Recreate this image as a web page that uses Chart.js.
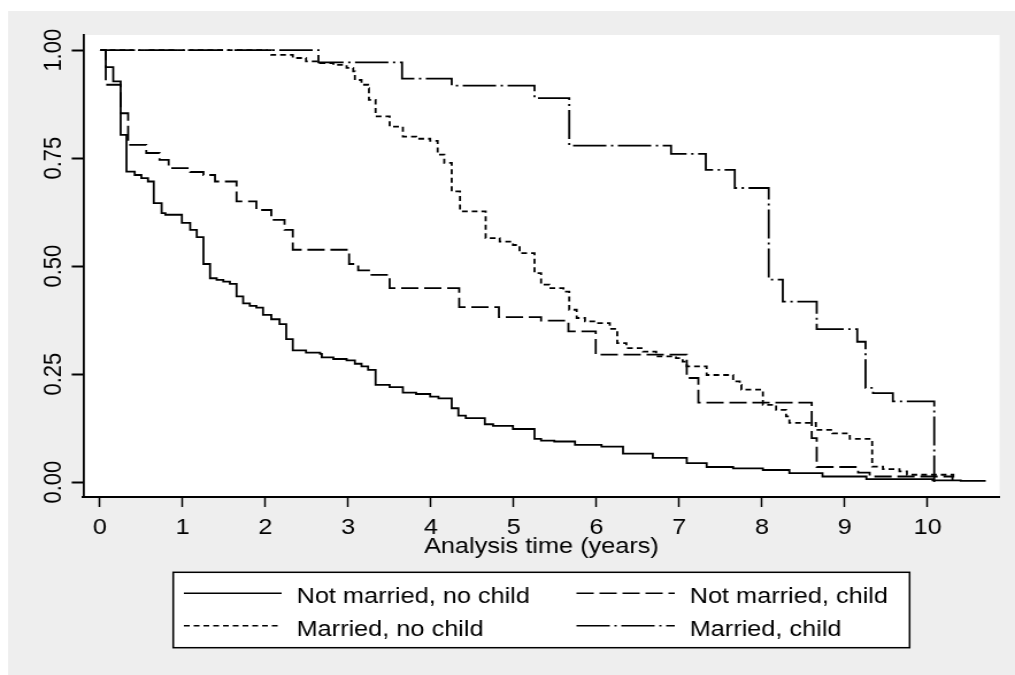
<!DOCTYPE html>
<html>
<head>
<meta charset="utf-8">
<title>Kaplan-Meier survival by marital status</title>
<script src="https://cdn.jsdelivr.net/npm/chart.js@4.4.1/dist/chart.umd.min.js"></script>
<style>
  html, body { margin: 0; padding: 0; background: #fff; overflow: hidden; }
  /* the original graph was exported slightly stretched sideways */
  #wrap { width: 883px; height: 675px; transform: scaleX(1.1495); transform-origin: 0 0; }
</style>
</head>
<body>
<div id="wrap"><canvas id="kmChart"></canvas></div>
<script>
const groupLabels = ["Not married, no child", "Not married, child", "Married, no child", "Married, child"];
const xTicks = [0, 1, 2, 3, 4, 5, 6, 7, 8, 9, 10];
const yTicks = [0, 0.25, 0.5, 0.75, 1];
const xTitle = "Analysis time (years)";

// Not married, no child
const timeNmNc = [0, 0.07, 0.16, 0.25, 0.32, 0.42, 0.50, 0.58, 0.65, 0.745, 0.79, 0.99, 1.09, 1.17, 1.25, 1.33, 1.41, 1.49, 1.57, 1.65,
  1.73, 1.81, 1.89, 1.97, 2.07, 2.17, 2.25, 2.33, 2.49, 2.66, 2.68, 2.82, 2.98, 3.08, 3.16, 3.24, 3.33, 3.50, 3.66, 3.82,
  3.99, 4.09, 4.25, 4.33, 4.42, 4.65, 4.75, 4.99, 5.25, 5.33, 5.49, 5.74, 6.06, 6.32, 6.68, 7.09, 7.33, 7.65, 8.01, 8.33,
  8.73, 9.26, 10.06, 10.40, 10.69];
const survNmNc = [1, 0.961, 0.928, 0.804, 0.719, 0.711, 0.704, 0.696, 0.646, 0.623, 0.619, 0.600, 0.584, 0.567, 0.505, 0.472, 0.468, 0.464, 0.459, 0.430,
  0.414, 0.408, 0.404, 0.387, 0.377, 0.366, 0.331, 0.305, 0.300, 0.297, 0.289, 0.285, 0.282, 0.274, 0.268, 0.260, 0.225, 0.220, 0.207, 0.204,
  0.198, 0.194, 0.171, 0.154, 0.148, 0.134, 0.130, 0.123, 0.100, 0.096, 0.094, 0.086, 0.082, 0.066, 0.056, 0.044, 0.035, 0.032, 0.028, 0.021,
  0.013, 0.007, 0.004, 0.003, 0.001];

// Not married, child
const timeNmC = [0, 0.07, 0.25, 0.34, 0.56, 0.72, 0.83, 1.09, 1.25, 1.39, 1.65, 1.89, 2.07, 2.23, 2.33, 3.01, 3.12, 3.25, 3.50, 4.34,
  4.82, 5.33, 5.66, 5.99, 7.09, 7.23, 8.60, 8.66, 9.16, 9.30, 10.30];
const survNmC = [1, 0.920, 0.854, 0.781, 0.762, 0.746, 0.727, 0.718, 0.711, 0.696, 0.650, 0.630, 0.607, 0.584, 0.538, 0.505, 0.490, 0.480, 0.449, 0.405,
  0.382, 0.374, 0.349, 0.295, 0.241, 0.184, 0.102, 0.035, 0.022, 0.013, 0.005];

// Married, no child
const timeMNc = [0, 2.07, 2.33, 2.49, 2.66, 2.82, 2.98, 3.06, 3.08, 3.16, 3.24, 3.25, 3.33, 3.50, 3.66, 3.82, 3.99, 4.08, 4.16, 4.25,
  4.35, 4.66, 4.83, 4.99, 5.07, 5.25, 5.33, 5.43, 5.60, 5.67, 5.76, 5.86, 6.02, 6.16, 6.25, 6.36, 6.56, 6.72, 6.96, 7.04,
  7.09, 7.33, 7.65, 7.73, 7.75, 8.01, 8.17, 8.29, 8.33, 8.65, 8.85, 9.06, 9.33, 9.46, 9.66, 9.75, 10.31];
const survMNc = [1, 0.989, 0.982, 0.974, 0.970, 0.966, 0.959, 0.951, 0.931, 0.920, 0.912, 0.885, 0.847, 0.823, 0.800, 0.795, 0.790, 0.758, 0.739, 0.673,
  0.627, 0.565, 0.557, 0.549, 0.530, 0.484, 0.457, 0.449, 0.441, 0.399, 0.380, 0.372, 0.368, 0.355, 0.322, 0.310, 0.302, 0.291, 0.287, 0.279,
  0.268, 0.248, 0.233, 0.225, 0.214, 0.179, 0.167, 0.152, 0.137, 0.121, 0.113, 0.100, 0.036, 0.030, 0.025, 0.017, 0.003];

// Married, child
const timeMC = [0, 2.64, 3.65, 4.25, 5.25, 5.67, 6.90, 7.32, 7.67, 8.08, 8.25, 8.66, 9.15, 9.25, 9.34, 9.58, 10.08];
const survMC = [1, 0.972, 0.934, 0.918, 0.889, 0.779, 0.760, 0.723, 0.681, 0.469, 0.418, 0.354, 0.325, 0.218, 0.206, 0.187, 0];

const FONT = "'Liberation Sans', Arial, Helvetica, sans-serif";

function toPoints(times, surv) {
  return times.map((t, i) => ({ x: t, y: surv[i] }));
}

function kmSet(label, times, surv, dash) {
  return {
    label: label,
    data: toPoints(times, surv),
    borderColor: "#000",
    borderWidth: 1.8,
    borderDash: dash,
    stepped: "before",
    pointRadius: 0,
    fill: false,
    tension: 0
  };
}

// grey page, white plot region
const backdrop = {
  id: "backdrop",
  beforeDraw(chart) {
    const { ctx, width, height, chartArea: a } = chart;
    ctx.save();
    ctx.fillStyle = "#ffffff";
    ctx.fillRect(0, 0, width, height);
    ctx.fillStyle = "#eeeeee";
    ctx.fillRect(7, 11, width - 7, height - 11);
    ctx.fillStyle = "#ffffff";
    ctx.fillRect(a.left, a.top, a.right - a.left, a.bottom - a.top);
    ctx.restore();
  }
};

// stata-style framed legend, two columns
const legendBox = {
  id: "legendBox",
  afterDraw(chart) {
    const ctx = chart.ctx;
    const box = { x: 150.7, y: 572.3, w: 640.6, h: 75.4 };
    const cols = [{ from: 160, to: 245, text: 258 }, { from: 501.5, to: 587, text: 600 }];
    const rows = [{ line: 593.3, text: 602.7 }, { line: 625.7, text: 636 }];

    ctx.save();
    ctx.fillStyle = "#fff";
    ctx.fillRect(box.x, box.y, box.w, box.h);
    ctx.strokeStyle = "#000";
    ctx.lineWidth = 1.5;
    ctx.strokeRect(box.x, box.y, box.w, box.h);

    chart.data.datasets.forEach((ds, i) => {
      const col = cols[i % 2];
      const row = rows[Math.floor(i / 2)];
      ctx.beginPath();
      ctx.setLineDash(ds.borderDash || []);
      ctx.lineWidth = 1.5;
      ctx.moveTo(col.from, row.line);
      ctx.lineTo(col.to, row.line);
      ctx.stroke();
      ctx.setLineDash([]);
      ctx.font = "22px " + FONT;
      ctx.fillStyle = "#000";
      ctx.textAlign = "left";
      ctx.textBaseline = "alphabetic";
      ctx.fillText(ds.label, col.text, row.text);
    });
    ctx.restore();
  }
};

new Chart(document.getElementById("kmChart"), {
  type: "line",
  data: {
    datasets: [
      kmSet(groupLabels[0], timeNmNc, survNmNc, []),
      kmSet(groupLabels[1], timeNmC, survNmC, [15, 5]),
      kmSet(groupLabels[2], timeMNc, survMNc, [5, 3.5]),
      kmSet(groupLabels[3], timeMC, survMC, [29, 4, 2, 4])
    ]
  },
  options: {
    responsive: true,
    maintainAspectRatio: false,
    animation: false,
    events: [],
    layout: { padding: { left: 0, top: 35, right: 13.4, bottom: 0 } },
    plugins: {
      legend: { display: false },
      tooltip: { enabled: false }
    },
    scales: {
      x: {
        type: "linear",
        bounds: "data",
        min: -0.2022,
        max: 10.87,
        afterBuildTicks: (scale) => { scale.ticks = xTicks.map((v) => ({ value: v })); },
        afterFit: (scale) => { scale.height = 178; },
        border: { display: true, color: "#000", width: 2 },
        grid: { drawOnChartArea: false, drawTicks: true, tickLength: 10, tickWidth: 1.5, tickColor: "#000" },
        ticks: {
          color: "#000",
          font: { family: FONT, size: 22, lineHeight: 1.2 },
          padding: 8,
          maxRotation: 0,
          autoSkip: false,
          callback: (v) => String(v)
        },
        title: {
          display: true,
          text: xTitle,
          color: "#000",
          font: { family: FONT, size: 22, lineHeight: 1.2 },
          padding: { top: 0, bottom: 115.3 }
        }
      },
      y: {
        type: "linear",
        bounds: "data",
        min: -0.0345,
        max: 1.0352,
        afterBuildTicks: (scale) => { scale.ticks = yTicks.map((v) => ({ value: v })); },
        afterFit: (scale) => { scale.width = 72.4; },
        border: { display: true, color: "#000", width: 1.8 },
        grid: { drawOnChartArea: false, drawTicks: true, tickLength: 10, tickWidth: 2, tickColor: "#000" },
        ticks: {
          color: "#000",
          font: { family: FONT, size: 22, lineHeight: 1.2 },
          minRotation: 90,
          maxRotation: 90,
          crossAlign: "center",
          padding: -5.7,
          autoSkip: false,
          callback: (v) => v.toFixed(2)
        }
      }
    }
  },
  plugins: [backdrop, legendBox]
});
</script>
</body>
</html>
